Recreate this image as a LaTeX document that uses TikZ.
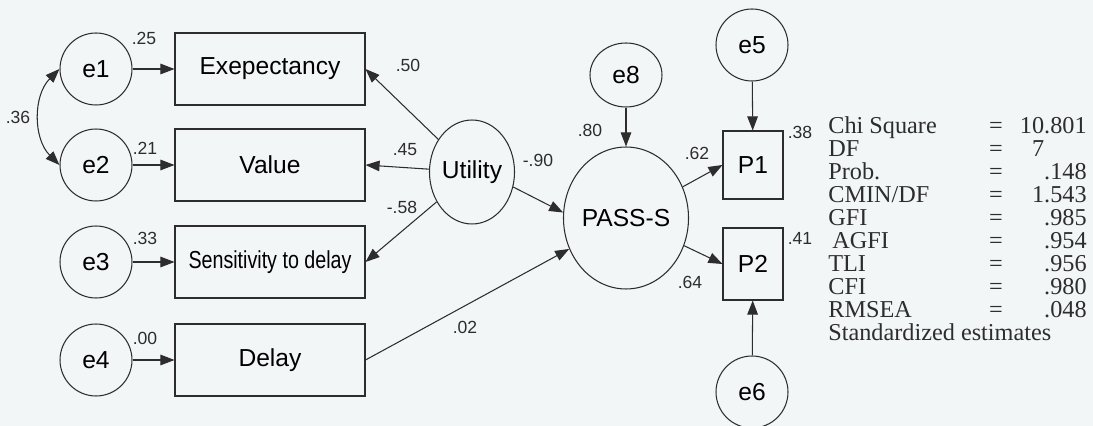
\documentclass[tikz,border=0pt]{standalone}
\usepackage{fontspec}
\setmainfont{Liberation Serif}
\newfontfamily\diagfont{Liberation Sans}
\usepackage{graphicx}
\usetikzlibrary{arrows.meta, positioning, shapes.geometric}
\definecolor{scanbg}{RGB}{243,246,247}
\definecolor{inkdark}{RGB}{45,45,45}
\tikzset{
  errnode/.style={circle, draw=inkdark, minimum size=1.44cm, inner sep=0pt,
    font=\diagfont\fontsize{14}{16}\selectfont, line width=0.6pt},
  obsbox/.style={rectangle, draw=inkdark, minimum width=3.8cm, minimum height=1.44cm,
    inner sep=0pt, font=\diagfont\fontsize{14}{16}\selectfont, line width=0.6pt},
  indbox/.style={rectangle, draw=inkdark, minimum width=1.2cm, minimum height=1.36cm,
    inner sep=0pt, font=\diagfont\fontsize{14}{16}\selectfont, line width=0.6pt},
  latnode/.style={ellipse, draw=inkdark, inner sep=0pt,
    font=\diagfont\fontsize{14}{16}\selectfont, line width=0.6pt},
  coef/.style={font=\diagfont\fontsize{10}{12}\selectfont, inner sep=0pt, text=inkdark},
  fitrow/.style={font=\fontsize{13.8}{15}\selectfont, inner sep=0pt, text=inkdark},
  arrow/.style={-{Triangle[length=8pt,width=6pt]}, line width=0.6pt, color=inkdark},
  covarrow/.style={{Triangle[length=8pt,width=6pt]}-{Triangle[length=8pt,width=6pt]},
    line width=0.6pt, color=inkdark}
}

\begin{document}
\begin{tikzpicture}[x=0.02cm, y=0.02cm]
  \useasboundingbox (0,0) rectangle (1093,426);
  \fill[scanbg] (0,0) rectangle (1093,426);

  % Error terms of the indicators
  \node[errnode] (e1) at (96,357) {e1};
  \node[errnode] (e2) at (96,261) {e2};
  \node[errnode] (e3) at (96,164) {e3};
  \node[errnode] (e4) at (96,66) {e4};

  % Observed variables
  \node[obsbox] (exp) at (270,357) {Exepectancy};
  \node[obsbox] (val) at (270,261) {Value};
  \node[obsbox] (sens) at (270,164) {\scalebox{0.8}[1]{Sensitivity to delay}};
  \node[obsbox] (delay) at (270,66) {Delay};

  % Latent variables
  \node[latnode, minimum width=1.68cm, minimum height=2.08cm] (util) at (472,254) {Utility};
  \node[latnode, minimum width=2.32cm, minimum height=2.84cm] (pass) at (626,208) {PASS-S};
  \node[latnode, minimum width=1.44cm, minimum height=1.28cm] (e8) at (626,351) {e8};

  % PASS-S indicators
  \node[indbox] (p1) at (753,261) {P1};
  \node[indbox, minimum height=1.44cm] (p2) at (753,162) {P2};
  \node[errnode] (e5) at (752,381) {e5};
  \node[errnode] (e6) at (752,34) {e6};

  % Paths
  \draw[arrow] (e1) -- (exp);
  \draw[arrow] (e2) -- (val);
  \draw[arrow] (e3) -- (sens);
  \draw[arrow] (e4) -- (delay);
  \draw[covarrow] (e1.west) to[out=225, in=135] (e2.west);
  \draw[arrow] (util) -- (exp.east);
  \draw[arrow] (util) -- (val.east);
  \draw[arrow] (util) -- (sens.east);
  \draw[arrow] (util.-20) -- (pass.175);
  \draw[arrow] (delay.east) -- (pass);
  \draw[arrow] (e8) -- (pass);
  \draw[arrow] (pass) -- (p1.west);
  \draw[arrow] (pass) -- (p2.west);
  \draw[arrow] (e5) -- (p1);
  \draw[arrow] (e6) -- (p2);

  % Estimates
  \node[coef] (r2exp) at (144,388) {.25};
  \node[coef] (r2val) at (145,278) {.21};
  \node[coef] (r2sens) at (145,188) {.33};
  \node[coef] (r2delay) at (145,88) {.00};
  \node[coef] (cov12) at (18,309) {.36};
  \node[coef] (wexp) at (408,361) {.50};
  \node[coef] (wval) at (405,276) {.45};
  \node[coef] (wsens) at (402,219) {-.58};
  \node[coef] (wutil) at (538,266) {-.90};
  \node[coef] (wdelay) at (465,99) {.02};
  \node[coef] (r2pass) at (590,296) {.80};
  \node[coef] (wp1) at (697,273) {.62};
  \node[coef] (wp2) at (690,144) {.64};
  \node[coef] (r2p1) at (800,294) {.38};
  \node[coef] (r2p2) at (800,188) {.41};

  % Fit statistics
  \foreach \lbl/\val [count=\i] in {Chi Square/10.801, DF/7\phantom{.801}, Prob./.148,
      {CMIN/DF}/1.543, GFI/.985, \,AGFI/.954, TLI/.956, CFI/.980, RMSEA/.048} {
    \pgfmathsetmacro\rowy{292-23*(\i-1)}
    \node[fitrow, anchor=base west] (fitlbl\i) at (828,\rowy) {\lbl};
    \node[fitrow, anchor=base] (fiteq\i) at (996,\rowy) {=};
    \node[fitrow, anchor=base east] (fitval\i) at (1087,\rowy) {\val};
  }
  \node[fitrow, anchor=base west] (fitnote) at (828,85) {Standardized estimates};
\end{tikzpicture}
\end{document}
